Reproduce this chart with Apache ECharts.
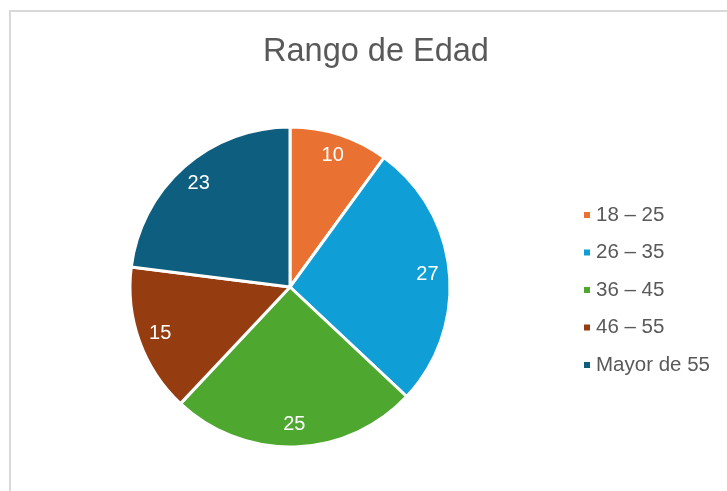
<!DOCTYPE html>
<html>
<head>
<meta charset="utf-8">
<style>html,body{margin:0;padding:0;background:#fff}#c{width:727px;height:491px}</style>
<script src="https://cdn.jsdelivr.net/npm/echarts@6/dist/echarts.min.js"></script>
</head>
<body>
<div id="c"></div>
<script>
const categories = ['18 – 25', '26 – 35', '36 – 45', '46 – 55', 'Mayor de 55'];
const values = [10, 27, 25, 15, 23];
const colors = ['#E97132', '#0F9ED5', '#4EA72E', '#953D10', '#0E5E7F'];

const data = categories.map((n, i) => ({ name: n, value: values[i] }));
const chart = echarts.init(document.getElementById('c'), null, { renderer: 'canvas' });
const font = '"Liberation Sans", Arial, sans-serif';
chart.setOption({
  animation: false,
  color: colors,
  textStyle: { fontFamily: font },
  title: {
    text: 'Rango de Edad', left: 371, top: 31, textAlign: 'center',
    textStyle: { fontSize: 32.5, fontWeight: 'normal', color: '#595959', fontFamily: font }
  },
  legend: {
    orient: 'vertical', left: 577, top: 198, itemWidth: 8, itemHeight: 8, itemGap: 13.5,
    icon: 'rect', data: categories,
    textStyle: { fontSize: 20.5, lineHeight: 24, color: '#595959', fontFamily: font, padding: [0, 0, 0, 0] }
  },
  graphic: [{
    type: 'rect', shape: { x: 10, y: 11, width: 760, height: 520 },
    style: { fill: 'none', stroke: '#d9d9d9', lineWidth: 2 }, silent: true, z: -1
  }],
  series: [{
    type: 'pie', center: [290, 287], radius: [0, 160], startAngle: 90, clockwise: true,
    data: data, label: { show: false }, labelLine: { show: false },
    itemStyle: { borderColor: '#fff', borderWidth: 3 }, emphasis: { disabled: true }
  }, {
    type: 'pie', center: [290, 287], radius: [110, 160], startAngle: 90, clockwise: true,
    data: data, silent: true, legendHoverLink: false,
    itemStyle: { color: 'rgba(0,0,0,0)', borderWidth: 0 },
    label: { show: true, position: 'inside', formatter: '{c}', color: '#fff', fontSize: 20, fontFamily: font, textBorderWidth: 0 },
    labelLine: { show: false }, emphasis: { disabled: true }
  }]
});
</script>
</body>
</html>
